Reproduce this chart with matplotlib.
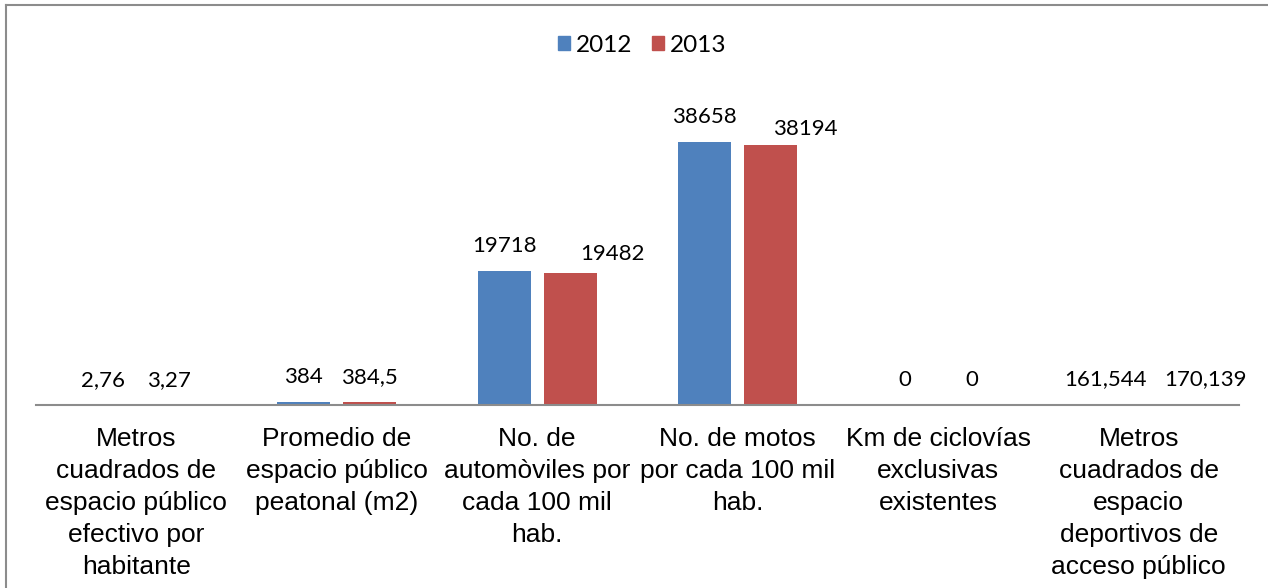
import matplotlib.pyplot as plt
import matplotlib as mtpl
from matplotlib.lines import Line2D
from matplotlib.patches import Patch
import numpy as np

# data
categories = [
    "Metros\ncuadrados de\nespacio público\nefectivo por\nhabitante",
    "Promedio de\nespacio público\npeatonal (m2)",
    "No. de\nautomòviles por\ncada 100 mil\nhab.",
    "No. de motos\npor cada 100 mil\nhab.",
    "Km de ciclovías\nexclusivas\nexistentes",
    "Metros\ncuadrados de\nespacio\ndeportivos de\nacceso público",
]
series_names = ["2012", "2013"]
values_2012 = [2.76, 384, 19718, 38658, 0, 161.544]
values_2013 = [3.27, 384.5, 19482, 38194, 0, 170.139]
labels_2012 = ["2,76", "384", "19718", "38658", "0", "161,544"]
labels_2013 = ["3,27", "384,5", "19482", "38194", "0", "170,139"]

colors = ["#4F81BD", "#C0504D"]
# label nudges (px) for the 2013 labels, the way they sit in the original
nudge_2013 = [(0, 0), (0, 0), (42, -6), (34, -9), (0, 0), (34, 0)]

W, H = 1268, 588
fig = plt.figure(figsize=(W / 100, H / 100), dpi=100)
ax = fig.add_axes([36 / W, 1 - 405 / H, (1239 - 36) / W, (405 - 99) / H])

x = np.arange(len(categories))
bw = 0.265
off = 0.165
ax.bar(x - off, values_2012, bw, color=colors[0], label=series_names[0])
ax.bar(x + off, values_2013, bw, color=colors[1], label=series_names[1])

ax.set_xlim(-0.5, len(categories) - 0.5)
ax.set_ylim(0, 45000)
for s in ["top", "right", "left"]:
    ax.spines[s].set_visible(False)
ax.spines["bottom"].set_color("#8c8c8c")
ax.spines["bottom"].set_linewidth(1.5)
ax.set_yticks([])
ax.set_xticks([])

px = 72 / 100  # points per pixel
for i in range(len(categories)):
    ax.annotate(labels_2012[i], (x[i] - off, values_2012[i]), xytext=(0, 19 * px),
                textcoords="offset points", ha="center", va="baseline",
                fontsize=16, family="Lato")
    dx, dy = nudge_2013[i]
    ax.annotate(labels_2013[i], (x[i] + off, values_2013[i]),
                xytext=(dx * px, (19 + dy) * px),
                textcoords="offset points", ha="center", va="baseline",
                fontsize=16, family="Lato")
    ax.annotate(categories[i], (x[i], 0), xycoords=("data", "axes fraction"),
                xytext=(0, -22 * px), textcoords="offset points",
                ha="center", va="top", fontsize=19, family="Liberation Sans",
                linespacing=1.42)

handles = [Patch(color=colors[0]), Patch(color=colors[1])]
fig.legend(handles, series_names, loc="center", bbox_to_anchor=(642 / W, 1 - 45 / H),
           ncol=2, frameon=False, prop={"family": "Lato", "size": 17.5},
           handlelength=0.5, handleheight=0.5, handletextpad=0.25,
           columnspacing=0.8)

# chart frame (only the left and top edges show in the crop)
fig.add_artist(Line2D([6 / W, 6 / W], [0, 1 - 5 / H], color="#8c8c8c", lw=1.5))
fig.add_artist(Line2D([6 / W, 1], [1 - 5 / H, 1 - 5 / H], color="#8c8c8c", lw=1.5))

plt.savefig("out.png", dpi=100)
plt.close()
